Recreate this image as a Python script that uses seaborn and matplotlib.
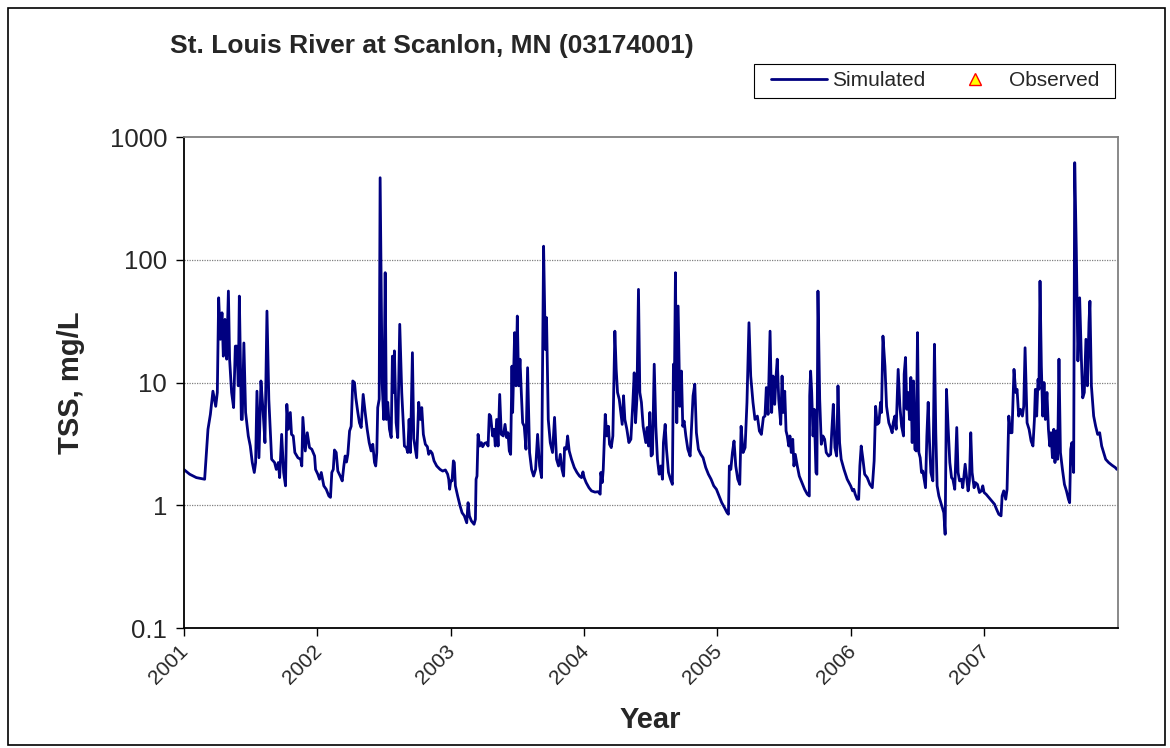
import numpy as np
import pandas as pd
import matplotlib
matplotlib.use('Agg')
import matplotlib.pyplot as plt
from matplotlib.lines import Line2D
from matplotlib.patches import Rectangle
from matplotlib.transforms import ScaledTranslation
import seaborn as sns

# =====================================================================
# 데이터 (그림에서 읽은 값: 소수 연도, TSS mg/L)
# =====================================================================
year = [
    2001.000, 2001.045, 2001.095, 2001.157, 2001.182, 2001.200, 2001.219, 2001.240, 2001.252, 2001.262,
    2001.275, 2001.287, 2001.297, 2001.309, 2001.322, 2001.335, 2001.344, 2001.359, 2001.374, 2001.387,
    2001.399, 2001.409, 2001.417, 2001.432, 2001.439, 2001.451, 2001.464, 2001.484, 2001.499, 2001.514,
    2001.529, 2001.539, 2001.549, 2001.564, 2001.579, 2001.594, 2001.609, 2001.624, 2001.638, 2001.659,
    2001.681, 2001.694, 2001.709, 2001.719, 2001.734, 2001.749, 2001.763, 2001.773, 2001.784, 2001.799,
    2001.808, 2001.821, 2001.833, 2001.856, 2001.876, 2001.885, 2001.893, 2001.911, 2001.926, 2001.943,
    2001.960, 2001.981, 2001.988, 2002.005, 2002.018, 2002.031, 2002.050, 2002.068, 2002.088, 2002.100,
    2002.110, 2002.121, 2002.130, 2002.143, 2002.155, 2002.173, 2002.188, 2002.200, 2002.210, 2002.220,
    2002.230, 2002.243, 2002.255, 2002.267, 2002.280, 2002.290, 2002.305, 2002.317, 2002.330, 2002.345,
    2002.360, 2002.375, 2002.390, 2002.405, 2002.417, 2002.430, 2002.439, 2002.447, 2002.454, 2002.465,
    2002.472, 2002.487, 2002.499, 2002.510, 2002.519, 2002.529, 2002.542, 2002.555, 2002.564, 2002.574,
    2002.579, 2002.592, 2002.604, 2002.619, 2002.634, 2002.654, 2002.669, 2002.679, 2002.689, 2002.699,
    2002.714, 2002.724, 2002.746, 2002.761, 2002.774, 2002.784, 2002.796, 2002.811, 2002.826, 2002.836,
    2002.849, 2002.862, 2002.876, 2002.896, 2002.921, 2002.941, 2002.961, 2002.978, 2002.986, 2002.993,
    2003.001, 2003.011, 2003.021, 2003.028, 2003.036, 2003.053, 2003.071, 2003.086, 2003.103, 2003.121,
    2003.131, 2003.141, 2003.156, 2003.176, 2003.186, 2003.191, 2003.198, 2003.206, 2003.218, 2003.231,
    2003.240, 2003.255, 2003.270, 2003.281, 2003.290, 2003.300, 2003.315, 2003.326, 2003.335, 2003.345,
    2003.356, 2003.368, 2003.380, 2003.395, 2003.408, 2003.420, 2003.430, 2003.440, 2003.450, 2003.460,
    2003.465, 2003.480, 2003.490, 2003.500, 2003.510, 2003.520, 2003.530, 2003.540, 2003.552, 2003.565,
    2003.577, 2003.592, 2003.607, 2003.622, 2003.637, 2003.652, 2003.667, 2003.682, 2003.697, 2003.710,
    2003.719, 2003.732, 2003.747, 2003.764, 2003.779, 2003.794, 2003.809, 2003.822, 2003.835, 2003.847,
    2003.854, 2003.867, 2003.877, 2003.889, 2003.906, 2003.927, 2003.947, 2003.966, 2003.981, 2003.992,
    2004.001, 2004.016, 2004.037, 2004.056, 2004.082, 2004.106, 2004.121, 2004.126, 2004.136, 2004.144,
    2004.159, 2004.171, 2004.183, 2004.191, 2004.204, 2004.216, 2004.231, 2004.241, 2004.251, 2004.264,
    2004.276, 2004.286, 2004.296, 2004.306, 2004.321, 2004.336, 2004.351, 2004.366, 2004.376, 2004.386,
    2004.396, 2004.408, 2004.418, 2004.430, 2004.443, 2004.463, 2004.473, 2004.483, 2004.493, 2004.503,
    2004.513, 2004.526, 2004.538, 2004.550, 2004.563, 2004.576, 2004.588, 2004.595, 2004.608, 2004.618,
    2004.633, 2004.648, 2004.662, 2004.670, 2004.677, 2004.685, 2004.695, 2004.705, 2004.718, 2004.730,
    2004.740, 2004.750, 2004.763, 2004.778, 2004.795, 2004.805, 2004.817, 2004.830, 2004.842, 2004.857,
    2004.875, 2004.892, 2004.912, 2004.932, 2004.952, 2004.972, 2004.992, 2005.012, 2005.032, 2005.052,
    2005.072, 2005.082, 2005.089, 2005.100, 2005.112, 2005.124, 2005.137, 2005.152, 2005.167, 2005.177,
    2005.192, 2005.207, 2005.221, 2005.236, 2005.249, 2005.266, 2005.281, 2005.299, 2005.314, 2005.329,
    2005.344, 2005.356, 2005.366, 2005.379, 2005.394, 2005.406, 2005.416, 2005.429, 2005.439, 2005.448,
    2005.459, 2005.474, 2005.484, 2005.493, 2005.504, 2005.514, 2005.523, 2005.534, 2005.543, 2005.553,
    2005.564, 2005.573, 2005.583, 2005.598, 2005.613, 2005.633, 2005.653, 2005.673, 2005.688, 2005.691,
    2005.698, 2005.706, 2005.716, 2005.725, 2005.738, 2005.745, 2005.753, 2005.766, 2005.778, 2005.790,
    2005.803, 2005.815, 2005.833, 2005.848, 2005.856, 2005.868, 2005.880, 2005.893, 2005.903, 2005.915,
    2005.927, 2005.948, 2005.972, 2005.998, 2006.013, 2006.022, 2006.032, 2006.047, 2006.058, 2006.067,
    2006.077, 2006.090, 2006.103, 2006.122, 2006.142, 2006.160, 2006.174, 2006.185, 2006.197, 2006.210,
    2006.222, 2006.229, 2006.240, 2006.255, 2006.267, 2006.284, 2006.297, 2006.309, 2006.317, 2006.329,
    2006.339, 2006.354, 2006.367, 2006.380, 2006.394, 2006.399, 2006.409, 2006.419, 2006.429, 2006.439,
    2006.449, 2006.459, 2006.469, 2006.479, 2006.489, 2006.499, 2006.509, 2006.519, 2006.529, 2006.539,
    2006.549, 2006.559, 2006.569, 2006.579, 2006.589, 2006.599, 2006.614, 2006.626, 2006.636, 2006.646,
    2006.659, 2006.674, 2006.689, 2006.696, 2006.706, 2006.716, 2006.728, 2006.741, 2006.754, 2006.764,
    2006.778, 2006.793, 2006.803, 2006.814, 2006.829, 2006.838, 2006.856, 2006.868, 2006.878, 2006.888,
    2006.898, 2006.908, 2006.923, 2006.933, 2006.948, 2006.963, 2006.978, 2006.988, 2006.998, 2007.013,
    2007.033, 2007.058, 2007.076, 2007.091, 2007.108, 2007.125, 2007.133, 2007.145, 2007.160, 2007.170,
    2007.183, 2007.195, 2007.207, 2007.222, 2007.235, 2007.245, 2007.257, 2007.270, 2007.285, 2007.295,
    2007.305, 2007.320, 2007.335, 2007.350, 2007.364, 2007.375, 2007.382, 2007.392, 2007.402, 2007.409,
    2007.417, 2007.427, 2007.437, 2007.447, 2007.457, 2007.469, 2007.480, 2007.490, 2007.499, 2007.510,
    2007.520, 2007.529, 2007.540, 2007.549, 2007.559, 2007.570, 2007.585, 2007.600, 2007.615, 2007.630,
    2007.639, 2007.647, 2007.656, 2007.669, 2007.677, 2007.689, 2007.701, 2007.714, 2007.727, 2007.737,
    2007.749, 2007.761, 2007.772, 2007.784, 2007.791, 2007.802, 2007.819, 2007.834, 2007.849, 2007.864,
    2007.879, 2007.894, 2007.909, 2007.931, 2007.956, 2007.981, 2007.993,
]

tss = [
    1.96, 1.79, 1.68, 1.63, 4.16, 5.5, 8.5, 6.4, 8.3, 49,
    22.5, 37, 16.4, 32.7, 15.5, 55.6, 15.5, 8.3, 6.25, 19.8,
    19.8, 9.4, 50.6, 5.0, 5.0, 21, 5.7, 3.67, 3.04, 2.23,
    1.85, 2.23, 8.5, 2.44, 10.3, 6.05, 3.24, 38.2, 7.3, 2.37,
    2.23, 1.96, 2.23, 1.68, 3.78, 1.85, 1.44, 6.64, 4.16, 5.7,
    3.78, 3.67, 2.69, 2.44, 2.37, 2.09, 5.2, 2.77, 3.9, 2.95,
    2.86, 2.52, 1.96, 1.79, 1.63, 1.85, 1.44, 1.35, 1.19, 1.16,
    1.85, 1.96, 2.82, 2.69, 1.9, 1.73, 1.58, 2.09, 2.52, 2.25,
    2.6, 4.03, 4.4, 10.3, 10.0, 7.5, 5.7, 4.7, 4.3, 8.0,
    5.7, 4.16, 3.24, 2.77, 3.14, 2.23, 2.09, 2.69, 6.25, 7.3,
    466, 10.0, 5.0, 78.5, 5.0, 6.9, 4.16, 3.56, 16.4, 8.3,
    18.1, 4.7, 3.56, 29.8, 8.3, 3.04, 2.95, 2.69, 5.0, 2.69,
    17.5, 3.5, 2.44, 6.9, 5.0, 6.25, 3.78, 3.14, 3.0, 2.6,
    2.77, 2.65, 2.3, 2.09, 1.96, 1.9, 1.94, 1.79, 1.63, 1.35,
    1.58, 1.58, 2.3, 2.23, 1.44, 1.19, 0.99, 0.87, 0.82, 0.72,
    1.05, 0.82, 0.745, 0.70, 0.77, 1.63, 1.73, 3.78, 3.04, 3.24,
    3.0, 3.2, 3.24, 3.04, 5.5, 5.33, 3.67, 4.16, 3.04, 5.0,
    3.04, 8.0, 3.78, 3.67, 4.56, 3.56, 3.9, 2.77, 2.6, 13.6,
    5.7, 25.5, 9.4, 34.8, 9.4, 15.5, 8.3, 4.7, 4.4, 2.86,
    13.2, 2.69, 1.96, 1.73, 1.96, 3.78, 2.09, 1.68, 129, 18.6,
    33.8, 5.0, 3.24, 2.69, 5.2, 2.37, 2.09, 2.6, 1.96, 1.73,
    2.95, 2.86, 3.67, 2.77, 2.37, 2.03, 1.85, 1.73, 1.68, 1.87,
    1.68, 1.53, 1.39, 1.31, 1.28, 1.29, 1.23, 1.85, 1.53, 1.96,
    5.5, 3.67, 4.4, 3.14, 2.95, 3.67, 26.2, 12.8, 8.3, 7.3,
    5.7, 4.56, 7.8, 5.0, 4.16, 3.24, 3.45, 6.9, 12.0, 4.7,
    7.3, 57.4, 8.3, 6.9, 4.4, 3.24, 4.3, 3.04, 5.7, 2.52,
    2.6, 14.1, 4.4, 2.37, 1.79, 2.09, 1.63, 3.24, 4.56, 2.86,
    1.85, 1.63, 1.48, 14.1, 8.8, 78.5, 4.7, 42, 6.4, 12.4,
    4.4, 4.85, 3.67, 2.86, 2.52, 4.16, 7.8, 9.7, 3.9, 2.86,
    2.6, 2.44, 2.03, 1.79, 1.63, 1.44, 1.35, 1.19, 1.05, 0.96,
    0.87, 0.845, 2.09, 1.96, 2.69, 3.34, 2.09, 1.63, 1.48, 4.4,
    2.69, 2.95, 6.9, 30.7, 11.3, 6.9, 5.0, 5.33, 4.03, 3.78,
    5.2, 5.33, 9.1, 5.5, 26.2, 5.7, 11.3, 6.64, 11.3, 15.5,
    7.3, 4.56, 11.3, 5.7, 8.5, 4.03, 3.67, 3.04, 3.67, 2.69,
    3.45, 2.09, 2.6, 2.09, 1.73, 1.53, 1.35, 1.23, 1.19, 7.8,
    12.4, 8.3, 3.67, 6.05, 1.85, 1.79, 55.6, 7.3, 3.14, 3.67,
    3.45, 2.69, 2.52, 2.6, 3.9, 6.64, 2.95, 2.52, 9.4, 3.24,
    2.37, 1.96, 1.63, 1.44, 1.31, 1.35, 1.23, 1.12, 1.12, 2.09,
    3.04, 2.37, 1.79, 1.68, 1.48, 1.39, 2.3, 6.4, 4.56, 4.7,
    6.9, 5.7, 23.9, 13.6, 6.4, 4.7, 4.3, 3.9, 4.7, 5.33,
    4.16, 12.8, 6.4, 4.4, 3.67, 11.7, 16.0, 6.05, 8.3, 5.0,
    11.0, 3.24, 10.3, 2.86, 2.77, 25.5, 2.69, 2.44, 1.85, 1.9,
    1.63, 1.39, 3.67, 6.9, 3.24, 1.85, 1.58, 20.5, 3.9, 1.44,
    1.19, 1.05, 0.93, 0.87, 0.58, 8.8, 4.4, 2.23, 1.68, 1.63,
    1.35, 4.3, 1.85, 1.58, 1.63, 1.39, 2.16, 1.63, 1.31, 1.58,
    3.9, 1.85, 1.39, 1.53, 1.48, 1.27, 1.31, 1.44, 1.27, 1.23,
    1.16, 1.08, 1.02, 0.93, 0.845, 0.82, 1.19, 1.31, 1.12, 1.35,
    5.33, 3.9, 3.9, 12.8, 8.3, 8.8, 5.33, 6.05, 5.33, 6.4,
    19.2, 4.7, 4.16, 3.34, 3.04, 5.0, 8.8, 5.33, 10.6, 8.8,
    67, 13.6, 5.33, 10.0, 5.0, 8.3, 4.16, 3.04, 3.9, 2.44,
    4.16, 2.23, 4.03, 2.37, 15.5, 2.69, 1.96, 1.48, 1.31, 1.12,
    1.05, 2.86, 3.24, 1.85, 618, 120, 15.0, 49, 15.5, 7.5,
    8.3, 22.5, 9.4, 30.7, 46, 9.4, 5.33, 4.4, 3.78, 3.9,
    3.04, 2.69, 2.37, 2.23, 2.12, 2.03, 1.96,
]

x_ticks = [2001, 2002, 2003, 2004, 2005, 2006, 2007]
y_ticks = [0.1, 1, 10, 100, 1000]
y_tick_labels = ['0.1', '1', '10', '100', '1000']

title = 'St. Louis River at Scanlon, MN (03174001)'

# =====================================================================
# 스타일 설정
# =====================================================================
sns.set_style('white')
plt.rcParams['font.family'] = ['Liberation Sans', 'DejaVu Sans']

df = pd.DataFrame({'Year': year, 'TSS': tss})

fig = plt.figure(figsize=(11.7, 7.48), dpi=100)
ax = fig.add_axes([0.157, 0.1604, 0.7984, 0.6564])

sns.lineplot(data=df, x='Year', y='TSS', ax=ax, color='#000080',
             linewidth=2.0, estimator=None, sort=True)

ax.set_yscale('log')
ax.set_ylim(0.1, 1000)
ax.set_xlim(2001, 2008)
ax.set_yticks(y_ticks)
ax.set_yticklabels(y_tick_labels, fontsize=18.5)
ax.yaxis.set_minor_locator(matplotlib.ticker.NullLocator())
ax.set_xticks(x_ticks)
ax.set_xticklabels([str(t) for t in x_ticks], rotation=45, ha='right',
                   rotation_mode='anchor', fontsize=15)
ax.tick_params(axis='both', direction='out', length=6, width=1, color='black',
               left=True, bottom=True)
ax.tick_params(axis='y', pad=6)
ax.tick_params(axis='x', pad=4)

# 연도 라벨을 눈금 왼쪽으로 약간 이동
shift = ScaledTranslation(-0.05, 0, fig.dpi_scale_trans)
for lbl in ax.get_xticklabels():
    lbl.set_transform(lbl.get_transform() + shift)

ax.grid(False)
for yv in [1, 10, 100]:
    ax.axhline(yv, color='#808080', linestyle=(0, (1, 1)), linewidth=0.9, zorder=0)

for side in ['left', 'bottom']:
    ax.spines[side].set_color('black')
    ax.spines[side].set_linewidth(1.3)
for side in ['top', 'right']:
    ax.spines[side].set_color('#808080')
    ax.spines[side].set_linewidth(1.3)

ax.set_xlabel('Year', fontsize=21, fontweight='bold', labelpad=13)
ax.set_ylabel('TSS, mg/L', fontsize=21, fontweight='bold', labelpad=18)

fig.text(0.145, 0.938, title, fontsize=19, fontweight='bold', va='center', ha='left')

# 범례 (관측값은 범례 항목만 있음)
handles = [
    Line2D([], [], color='#000080', linewidth=2),
    Line2D([], [], color='red', marker='^', markerfacecolor='yellow',
           markeredgecolor='red', markersize=8, linestyle='None'),
]
leg = fig.legend(handles, ['Simulated', 'Observed'], loc='center right',
                 bbox_to_anchor=(1099 / 1170, 1 - 81 / 748), ncol=2, fontsize=15,
                 frameon=False, handlelength=2.7, columnspacing=1.05,
                 borderpad=0, handletextpad=0.25, borderaxespad=0)

# 범례 테두리 상자
fig.patches.append(Rectangle((754 / 1170, 1 - 98 / 748), 361 / 1170, 34 / 748,
                             transform=fig.transFigure, fill=False,
                             edgecolor='black', linewidth=0.8))

# 차트 외곽 테두리
fig.patches.append(Rectangle((0.007, 0.004), 0.989, 0.985, transform=fig.transFigure,
                             fill=False, edgecolor='black', linewidth=1.2))

fig.savefig('out.png', dpi=100)
